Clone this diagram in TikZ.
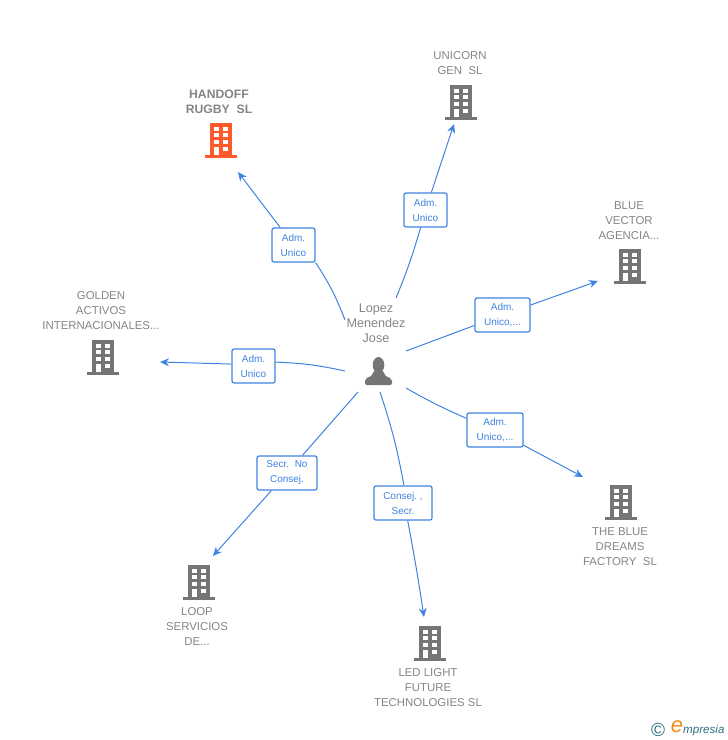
\documentclass[tikz,border=0pt]{standalone}
\usepackage{fontspec}
\setmainfont{Liberation Sans}
\usetikzlibrary{arrows.meta}
\definecolor{linkblue}{HTML}{3F83E2}
\definecolor{namegrey}{HTML}{858585}
\definecolor{icongrey}{HTML}{757575}
\definecolor{iconorange}{HTML}{FF5A2C}
\definecolor{logoteal}{HTML}{2F6F86}
\definecolor{logoorange}{HTML}{F08A1D}
\tikzset{
  namelabel/.style={text=namegrey, align=center, inner sep=0pt, font=\fontsize{11.4}{15}\selectfont},
  rolebox/.style={draw=linkblue, fill=white, line width=1.2pt, rounded corners=2pt, inner sep=0pt,
    text=linkblue, align=center, minimum height=34pt, font=\fontsize{10}{15}\selectfont},
  linkline/.style={draw=linkblue, line width=1pt},
  linktip/.style={linkline, -{Stealth[length=9pt,width=8pt]}},
  pics/building/.style={code={
    \fill[#1] (-11,-17) rectangle (11,15);
    \fill[#1] (-16,15) rectangle (16,17.5);
    \foreach \r in {-13,-7,0,6.5} {
      \fill[white] (-7.5,\r) rectangle (-2.5,\r+4);
      \fill[white] (2,\r) rectangle (7,\r+4);
    }
    \fill[white] (-7.5,10) rectangle (-2.5,15);
  }}
}
\begin{document}
\begin{tikzpicture}[x=1pt,y=-1pt]
  \useasboundingbox (0,0) rectangle (728,740);
  % person
  \node[namelabel, font=\fontsize{12.6}{15}\selectfont] (lopez) at (376,323) {Lopez\\Menendez\\Jose};
  \fill[icongrey] (378.5,365) ellipse (5.8 and 8);
  \fill[icongrey, rounded corners=2pt] (365,385) -- (365,379) -- (373,375) -- (373,371) -- (384,371) -- (384,375) -- (392,379) -- (392,385) -- cycle;
  % companies
  \node[namelabel, font=\fontsize{12.2}{15}\selectfont\bfseries] (handoff) at (219,101.5) {HANDOFF\\RUGBY\ \ SL};
  \pic at (221,140) {building=iconorange};
  \node[namelabel] (unicorn) at (460,63.5) {UNICORN\\GEN\ \ SL};
  \pic at (461,102) {building=icongrey};
  \node[namelabel] (bluevector) at (629,220.5) {BLUE\\VECTOR\\AGENCIA...};
  \pic at (630,266) {building=icongrey};
  \node[namelabel] (golden) at (101,310.5) {GOLDEN\\ACTIVOS\\INTERNACIONALES...};
  \pic at (103,357) {building=icongrey};
  \node[namelabel] (dreams) at (620,546.5) {THE BLUE\\DREAMS\\FACTORY\ \ SL};
  \pic at (621,502) {building=icongrey};
  \node[namelabel] (loop) at (197,626.5) {LOOP\\SERVICIOS\\DE...};
  \pic at (199,582) {building=icongrey};
  \node[namelabel] (ledlight) at (428,687.5) {LED LIGHT\\FUTURE\\TECHNOLOGIES SL};
  \pic at (430,643) {building=icongrey};
  % free ends
  \coordinate (s1) at (345,320);
  \coordinate (s2) at (396,298);
  \coordinate (s3) at (406,351);
  \coordinate (s4) at (406,388);
  \coordinate (s5) at (380,392);
  \coordinate (s6) at (358,392);
  \coordinate (s7) at (345,371);
  \coordinate (t1) at (238,172);
  \coordinate (t2) at (454,124);
  \coordinate (t3) at (598,281);
  \coordinate (t4) at (583,477);
  \coordinate (t5) at (424,617);
  \coordinate (t6) at (213,556);
  \coordinate (t7) at (160,362);
  % roles
  \node[rolebox, minimum width=43pt] (role1) at (293.5,245) {Adm.\\Unico};
  \node[rolebox, minimum width=43pt] (role2) at (425.5,210) {Adm.\\Unico};
  \node[rolebox, minimum width=55pt] (role3) at (502.5,315) {Adm.\\Unico,...};
  \node[rolebox, minimum width=56pt] (role4) at (495,430) {Adm.\\Unico,...};
  \node[rolebox, minimum width=58pt] (role5) at (403,503) {Consej.\ ,\\Secr.};
  \node[rolebox, minimum width=60pt] (role6) at (287,473) {Secr.\ \ No\\Consej.};
  \node[rolebox, minimum width=43pt] (role7) at (253.5,366) {Adm.\\Unico};
  % links
  \draw[linkline] (s1) to[bend right=6] (role1.south east);
  \draw[linktip] (role1) to (t1);
  \draw[linkline] (s2) to[bend right=3] (role2);
  \draw[linktip] (role2) to (t2);
  \draw[linkline] (s3) to (role3);
  \draw[linktip] (role3) to (t3);
  \draw[linkline] (s4) to[bend right=3] (role4);
  \draw[linktip] (role4) to (t4);
  \draw[linkline] (s5) to[bend left=4] (role5.87);
  \draw[linktip] (role5.-75) to[bend left=1] (t5);
  \draw[linkline] (s6) to (role6);
  \draw[linktip] (role6) to (t6);
  \draw[linkline] (s7) to[bend right=5] (role7.10);
  \draw[linktip] (role7.175) to (t7);
  % logo
  \node[text=logoteal, inner sep=0pt, font=\fontsize{19}{19}\selectfont] (copy) at (658,729.5) {©};
  \node[text=logoorange, inner sep=0pt, font=\fontsize{22}{22}\selectfont\itshape] (logoe) at (677,727) {e};
  \node[text=logoteal, inner sep=0pt, anchor=west, font=\fontsize{11.6}{13}\selectfont\itshape] (logotext) at (683,730) {mpresia};
\end{tikzpicture}
\end{document}
